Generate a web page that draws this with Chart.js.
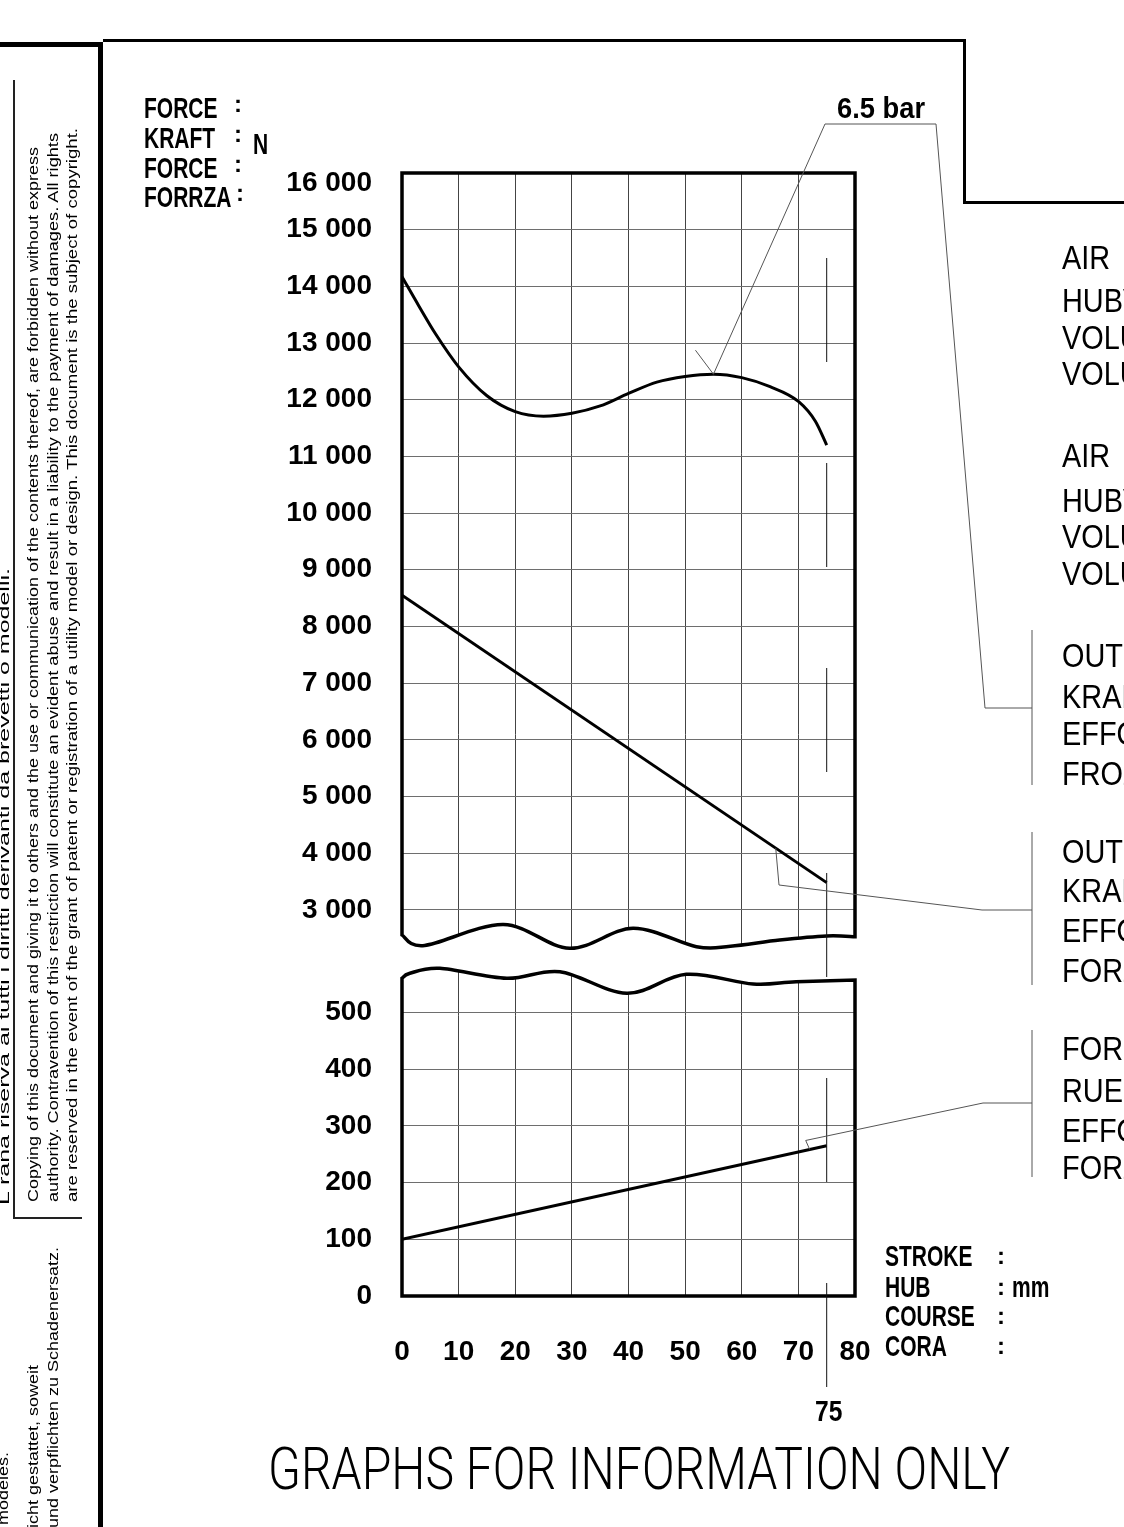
<!DOCTYPE html>
<html>
<head>
<meta charset="utf-8">
<script src="https://cdn.jsdelivr.net/npm/chart.js@4.4.1/dist/chart.umd.min.js"></script>
<style>
  html, body { margin: 0; padding: 0; background: #fff; }
  #page { position: relative; width: 1124px; height: 1527px; overflow: hidden; background: #fff; }
  #c { position: absolute; left: 0; top: 0; }
  .t { position: absolute; white-space: nowrap; line-height: 1; color: #000; transform-origin: 0 0; }
  .rule { position: absolute; background: #000; }
</style>
</head>
<body>
<div id="page">
  <canvas id="c" width="1124" height="1527"></canvas>
  <!-- drawing frame -->
  <div class="rule" style="left:0;top:42px;width:103px;height:5px"></div>
  <div class="rule" style="left:98px;top:42px;width:5px;height:1485px"></div>
  <div class="rule" style="left:103px;top:39px;width:863px;height:3px"></div>
  <div class="rule" style="left:963px;top:39px;width:3px;height:165px"></div>
  <div class="rule" style="left:963px;top:201px;width:161px;height:3px"></div>
  <div class="rule" style="left:13px;top:80px;width:1.5px;height:1139px;background:#222"></div>
  <div class="rule" style="left:13px;top:1217px;width:69px;height:1.5px;background:#222"></div>
</div>
<script>
// Hub / Kraft Werte
const strokeTicks = [0, 10, 20, 30, 40, 50, 60, 70, 80];
const forceTicksHigh = [3000, 4000, 5000, 6000, 7000, 8000, 9000, 10000, 11000, 12000, 13000, 14000, 15000, 16000];
const forceTicksLow = [0, 100, 200, 300, 400, 500];

// 6.5 bar curve
const curveStroke = [0, 3, 6, 10, 15, 20, 25, 30, 35, 40, 45, 50, 55, 60, 65, 70, 73, 75];
const curveForce = [14170, 13650, 13150, 12580, 12070, 11790, 11710, 11760, 11890, 12110, 12310, 12410, 12450, 12390, 12230, 11970, 11620, 11200];

// output force line
const outStroke = [0, 75];
const outForce = [8550, 3480];

// return force line
const retStroke = [0, 75];
const retForce = [100, 265];

const endStroke = 75;

const TICK_FONT = '"Liberation Sans", Arial, sans-serif';

function fmtForce(v) {
    if (v >= 1000) return Math.floor(v / 1000) + ' 000';
    return String(v);
}

function toPoints(xs, ys) {
    return xs.map((x, i) => ({ x: x, y: ys[i] }));
}

function valueAt(xs, ys, x) {
    for (let i = 0; i < xs.length - 1; i++) {
        if (x >= xs[i] && x <= xs[i + 1]) {
            const f = (x - xs[i]) / (xs[i + 1] - xs[i]);
            return ys[i] + f * (ys[i + 1] - ys[i]);
        }
    }
    return ys[ys.length - 1];
}

// break wave shapes: [stroke, px offset from stack boundary]
const upperWave = [[0, -23], [4, -12.5], [17.9, -33.5], [29.6, -9.7], [40.8, -29.7], [52, -11.3], [58, -11.8], [66.7, -18], [75, -22], [80, -21.3]];
const lowerWave = [[0, 20.3], [1.4, 15.3], [6.7, 10.3], [18.5, 20.3], [27.9, 13.7], [39.7, 35.3], [50.2, 16.3], [62, 26], [69.6, 23.7], [80, 22]];

function wavePx(pts, xs, y0) {
    return pts.map(p => [xs.getPixelForValue(p[0]), y0 + p[1]]);
}

function curveThrough(ctx, pts) {
    for (let i = 0; i < pts.length - 1; i++) {
        const p0 = pts[i - 1] || pts[i], p1 = pts[i], p2 = pts[i + 1], p3 = pts[i + 2] || p2;
        ctx.bezierCurveTo(
            p1[0] + (p2[0] - p0[0]) / 6, p1[1] + (p2[1] - p0[1]) / 6,
            p2[0] - (p3[0] - p1[0]) / 6, p2[1] - (p3[1] - p1[1]) / 6,
            p2[0], p2[1]);
    }
}

const decorPlugin = {
    id: 'decor',
    beforeDatasetsDraw(chart) {
        // white gap between the two graph parts
        const { ctx, chartArea: ca, scales } = chart;
        const yb = scales.yHigh.bottom;
        const up = wavePx(upperWave, scales.x, yb);
        const lo = wavePx(lowerWave, scales.x, yb);
        ctx.save();
        ctx.fillStyle = '#fff';
        ctx.beginPath();
        ctx.moveTo(ca.left - 6, up[0][1]);
        ctx.lineTo(up[0][0], up[0][1]);
        curveThrough(ctx, up);
        ctx.lineTo(ca.right + 6, up[up.length - 1][1]);
        ctx.lineTo(ca.right + 6, lo[lo.length - 1][1]);
        const rev = lo.slice().reverse();
        ctx.lineTo(rev[0][0], rev[0][1]);
        curveThrough(ctx, rev);
        ctx.lineTo(ca.left - 6, lo[0][1]);
        ctx.closePath();
        ctx.fill();
        ctx.restore();
    },
    afterDatasetsDraw(chart) {
        const { ctx, chartArea: ca, scales } = chart;
        const xs = scales.x, yH = scales.yHigh, yL = scales.yLow;
        const yb = yH.bottom;
        const up = wavePx(upperWave, xs, yb);
        const lo = wavePx(lowerWave, xs, yb);
        ctx.save();

        // panel borders
        ctx.strokeStyle = '#000';
        ctx.lineWidth = 3.5;
        ctx.lineJoin = 'miter';
        ctx.beginPath();
        ctx.moveTo(up[up.length - 1][0], up[up.length - 1][1]);
        ctx.lineTo(ca.right, ca.top);
        ctx.lineTo(ca.left, ca.top);
        ctx.lineTo(up[0][0], up[0][1]);
        curveThrough(ctx, up);
        ctx.closePath();
        ctx.stroke();

        ctx.beginPath();
        ctx.moveTo(lo[0][0], lo[0][1]);
        curveThrough(ctx, lo);
        ctx.lineTo(ca.right, ca.bottom);
        ctx.lineTo(ca.left, ca.bottom);
        ctx.closePath();
        ctx.stroke();

        // dashed line at 75 mm
        const x75 = xs.getPixelForValue(endStroke);
        ctx.lineWidth = 1;
        ctx.strokeStyle = '#111';
        ctx.setLineDash([104, 101]);
        ctx.beginPath();
        ctx.moveTo(x75, 258);
        ctx.lineTo(x75, 1387);
        ctx.stroke();
        ctx.setLineDash([]);

        // leader lines
        ctx.strokeStyle = '#555';
        ctx.lineWidth = 1;
        const t1 = [xs.getPixelForValue(55), yH.getPixelForValue(valueAt(curveStroke, curveForce, 55))];
        const t2 = [xs.getPixelForValue(66), yH.getPixelForValue(valueAt(outStroke, outForce, 66))];
        const t3 = [xs.getPixelForValue(72), yL.getPixelForValue(valueAt(retStroke, retForce, 72))];
        const leaders = [
            [[t1[0] - 18, t1[1] - 24], t1, [825, 124], [936, 124], [985, 708], [1032, 708]],
            [t2, [779, 885], [982, 910], [1032, 910]],
            [t3, [t3[0] - 4, t3[1] - 9], [983, 1103], [1032, 1103]]
        ];
        leaders.forEach(pts => {
            ctx.beginPath();
            ctx.moveTo(pts[0][0], pts[0][1]);
            for (let i = 1; i < pts.length; i++) ctx.lineTo(pts[i][0], pts[i][1]);
            ctx.stroke();
        });
        // brackets
        [[630, 785], [832, 985], [1030, 1177]].forEach(b => {
            ctx.beginPath();
            ctx.moveTo(1032, b[0]);
            ctx.lineTo(1032, b[1]);
            ctx.stroke();
        });
        ctx.restore();
    }
};

const tickFont = ctx => ({
    family: TICK_FONT, size: 28, weight: 'bold',
    lineHeight: ctx.tick && ctx.tick.value === 16000 ? 0.72 : 1.2
});

new Chart(document.getElementById('c').getContext('2d'), {
    type: 'line',
    data: {
        datasets: [
            {
                label: '6.5 bar',
                data: toPoints(curveStroke, curveForce),
                xAxisID: 'x', yAxisID: 'yHigh',
                borderColor: '#000', borderWidth: 3,
                pointRadius: 0, fill: false,
                cubicInterpolationMode: 'monotone'
            },
            {
                label: 'Output force',
                data: toPoints(outStroke, outForce),
                xAxisID: 'x', yAxisID: 'yHigh',
                borderColor: '#000', borderWidth: 3,
                pointRadius: 0, fill: false
            },
            {
                label: 'Return force',
                data: toPoints(retStroke, retForce),
                xAxisID: 'x', yAxisID: 'yLow',
                borderColor: '#000', borderWidth: 3,
                pointRadius: 0, fill: false
            }
        ]
    },
    options: {
        responsive: false,
        animation: false,
        events: [],
        layout: { padding: { left: 272, top: 173, right: 269, bottom: 151 } },
        plugins: { legend: { display: false }, tooltip: { enabled: false } },
        scales: {
            x: {
                type: 'linear', position: 'bottom', min: 0, max: 80,
                afterBuildTicks: s => { s.ticks = strokeTicks.map(v => ({ value: v })); },
                afterFit: s => { s.height = 80; },
                grid: { color: '#444', lineWidth: 1, drawTicks: false },
                border: { display: false },
                ticks: { padding: 39, color: '#000', autoSkip: false, maxRotation: 0,
                    font: { family: TICK_FONT, size: 28, weight: 'bold' } }
            },
            yLow: {
                type: 'linear', position: 'left', stack: 'force', stackWeight: 338,
                min: 0, max: 596,
                afterBuildTicks: s => { s.ticks = forceTicksLow.map(v => ({ value: v })); },
                afterFit: s => { s.width = 130; },
                grid: { color: '#6e6e6e', lineWidth: 1, drawTicks: false },
                border: { display: false },
                ticks: { padding: 30, color: '#000', autoSkip: false, font: tickFont, callback: v => fmtForce(v) }
            },
            yHigh: {
                type: 'linear', position: 'left', stack: 'force', stackWeight: 785,
                min: 2150, max: 16000,
                afterBuildTicks: s => { s.ticks = forceTicksHigh.map(v => ({ value: v })); },
                afterFit: s => { s.width = 130; },
                grid: { color: '#6e6e6e', lineWidth: 1, drawTicks: false },
                border: { display: false },
                ticks: { padding: 30, color: '#000', autoSkip: false, font: tickFont,
                    callback: v => v === 16000 ? ['', fmtForce(v)] : fmtForce(v) }
            }
        }
    },
    plugins: [decorPlugin]
});

// ---- texts around the graph ----
const page = document.getElementById('page');
const SANS = '"Liberation Sans", Arial, sans-serif';

function addText(str, o) {
    const el = document.createElement('div');
    el.className = 't';
    el.textContent = str;
    el.style.font = (o.weight || 'normal') + ' ' + o.size + 'px/1 ' + (o.family || SANS);
    page.appendChild(el);
    const w = el.getBoundingClientRect().width;
    let sx = o.sx || 1;
    if (o.fit) sx = o.fit / w;
    if (o.rot) {
        const start = o.y0 !== undefined ? o.y0 : o.y1 + w * sx;
        el.style.left = (o.x - 0.13 * o.size) + 'px';
        el.style.top = start + 'px';
        el.style.transform = 'rotate(-90deg) scaleX(' + sx + ')';
    } else {
        el.style.left = o.x + 'px';
        el.style.top = (o.y - 0.13 * o.size) + 'px';
        el.style.transform = 'scaleX(' + sx + ')';
    }
    return sx;
}

// axis titles
const forceNames = ['FORCE', 'KRAFT', 'FORCE', 'FORRZA'];
const forceTops = [97, 127, 157, 186];
forceNames.forEach((s, i) => {
    addText(s, { x: 144, y: forceTops[i], size: 30, weight: 'bold', sx: 0.7 });
    addText(':', { x: i === 3 ? 236 : 234, y: forceTops[i] - 2, size: 24, weight: 'bold' });
});
addText('N', { x: 253, y: 133, size: 30, weight: 'bold', sx: 0.7 });

const strokeNames = ['STROKE', 'HUB', 'COURSE', 'CORA'];
const strokeTops = [1245, 1276, 1305, 1335];
strokeNames.forEach((s, i) => {
    addText(s, { x: 885, y: strokeTops[i], size: 30, weight: 'bold', sx: 0.7 });
    addText(':', { x: 997, y: strokeTops[i] + 2, size: 24, weight: 'bold' });
});
addText('mm', { x: 1012, y: 1276, size: 30, weight: 'bold', sx: 0.7 });

addText('6.5 bar', { x: 837, y: 97, size: 30, weight: 'bold', sx: 0.91 });
addText('75', { x: 815, y: 1400, size: 30, weight: 'bold', sx: 0.82 });

// legend blocks (cut off at the right edge)
const blocks = [
    { tops: [244, 287, 324, 360], words: ['AIR', 'HUBV', 'VOLU', 'VOLU'] },
    { tops: [442, 487, 523, 560], words: ['AIR', 'HUBV', 'VOLU', 'VOLU'] },
    { tops: [642, 683, 720, 760], words: ['OUTP', 'KRAF', 'EFFO', 'FROZ'] },
    { tops: [838, 877, 917, 957], words: ['OUTP', 'KRAF', 'EFFO', 'FORZ'] },
    { tops: [1035, 1077, 1117, 1154], words: ['FORC', 'RUEC', 'EFFO', 'FORZ'] }
];
blocks.forEach(b => b.words.forEach((w, i) => {
    addText(w, { x: 1062, y: b.tops[i], size: 34, sx: 0.85 });
}));

addText('GRAPHS FOR INFORMATION ONLY', { x: 268, y: 1447, size: 60, weight: '300',
    family: 'Roboto, "Liberation Sans", sans-serif', fit: 742 });

// copyright strip (vertical)
const s1 = addText('Copying of this document and giving it to others and the use or communication of the contents thereof, are forbidden without express',
    { rot: true, x: 27, y0: 1202, size: 15, fit: 1055 });
addText('authority. Contravention of this restriction will constitute an evident abuse and result in a liability to the payment of damages. All rights',
    { rot: true, x: 47, y0: 1202, size: 15, fit: 1069 });
addText('are reserved in the event of the grant of patent or registration of a utility model or design. This document is the subject of copyright.',
    { rot: true, x: 66, y0: 1202, size: 15, fit: 1074 });
addText('L rana riserva ai tutti i diritti derivanti da brevetti o modelli.',
    { rot: true, x: -2, y0: 1205, size: 15, fit: 637 });
addText('brevets ou de modèles.',
    { rot: true, x: -3, y1: 1452, size: 15, sx: s1 });
addText('Vervielfältigung dieser Unterlage ist nicht gestattet, soweit',
    { rot: true, x: 27, y1: 1365, size: 15, sx: s1 });
addText('Zuwiderhandlungen sind strafbar und verpflichten zu Schadenersatz.',
    { rot: true, x: 47, y1: 1247, size: 15, sx: s1 });
</script>
</body>
</html>
